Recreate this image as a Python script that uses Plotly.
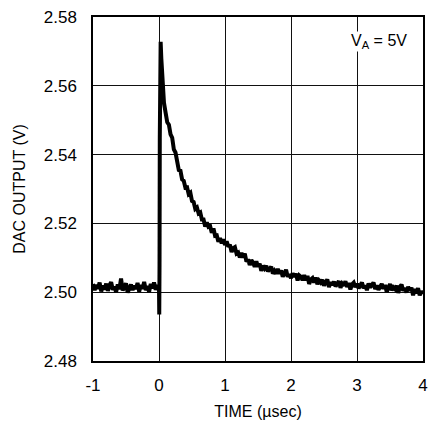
import numpy as np
import plotly.graph_objects as go

# Time samples (µs)
pre_time = np.round(np.arange(-1.0, 0.0, 0.025), 3).tolist()
glitch_time = [0.0, 0.004, 0.008, 0.012, 0.018, 0.025, 0.035]
post_time = np.round(np.arange(0.05, 4.0001, 0.025), 3).tolist()

# DAC output (V)
pre_v = [2.5024, 2.5006, 2.5021, 2.5010, 2.5028, 2.5002, 2.5019, 2.5008, 2.5025, 2.5004,
         2.5020, 2.5029, 2.5007, 2.5016, 2.5000, 2.5023, 2.5009, 2.5040, 2.5005, 2.5018,
         2.5026, 2.4999, 2.5015, 2.5022, 2.5006, 2.5019, 2.5009, 2.5027, 2.5002, 2.5021,
         2.5010, 2.5030, 2.5006, 2.5018, 2.5001, 2.5024, 2.5011, 2.5028, 2.5007, 2.5020]
glitch_v = [2.5012, 2.4935, 2.5080, 2.5450, 2.5650, 2.5728, 2.5680]
post_v = [2.5605, 2.5551, 2.5522, 2.5494, 2.5487, 2.5459, 2.5449, 2.5415, 2.5406, 2.5381,
          2.5355, 2.5353, 2.5328, 2.5324, 2.5304, 2.5305, 2.5285, 2.5289, 2.5265, 2.5262,
          2.5242, 2.5246, 2.5229, 2.5232, 2.5211, 2.5211, 2.5191, 2.5203, 2.5190, 2.5192,
          2.5173, 2.5185, 2.5164, 2.5165, 2.5147, 2.5157, 2.5142, 2.5154,
          2.5137, 2.5148, 2.5132, 2.5138, 2.5117, 2.5128, 2.5131, 2.5112, 2.5115, 2.5101,
          2.5114, 2.5101, 2.5112, 2.5089, 2.5096, 2.5079, 2.5093, 2.5086, 2.5074, 2.5090,
          2.5074, 2.5083, 2.5062, 2.5077, 2.5069, 2.5077, 2.5060, 2.5068, 2.5074, 2.5054,
          2.5062, 2.5054, 2.5068, 2.5054, 2.5063, 2.5045, 2.5058, 2.5065, 2.5045, 2.5052,
          2.5041, 2.5055, 2.5045, 2.5054, 2.5034, 2.5049, 2.5045, 2.5035, 2.5050, 2.5035,
          2.5047, 2.5024, 2.5037, 2.5041, 2.5028, 2.5043, 2.5023, 2.5034, 2.5028, 2.5036,
          2.5019, 2.5029, 2.5037, 2.5015, 2.5029, 2.5021, 2.5031, 2.5017, 2.5023, 2.5032,
          2.5013, 2.5025, 2.5019, 2.5032, 2.5015, 2.5027, 2.5008, 2.5023, 2.5028, 2.5015,
          2.5025, 2.5011, 2.5020, 2.5028, 2.5012, 2.5019, 2.5006, 2.5025, 2.5014, 2.5022,
          2.5028, 2.5009, 2.5020, 2.5007, 2.5017, 2.5024, 2.5010, 2.5021, 2.5001, 2.5017,
          2.5024, 2.5006, 2.5014, 2.5009, 2.5019, 2.4998, 2.5016, 2.5022, 2.5004, 2.5012,
          2.4999, 2.5016, 2.5005, 2.5013, 2.4991, 2.5009, 2.4997, 2.5012, 2.4991, 2.5003,
          2.4995]

x_ticks = [-1, 0, 1, 2, 3, 4]
y_ticks = [2.48, 2.50, 2.52, 2.54, 2.56, 2.58]
y_labels = ["2.48", "2.50", "2.52", "2.54", "2.56", "2.58"]

time = pre_time + glitch_time + post_time
volts = pre_v + glitch_v + post_v

FONT = "Liberation Sans, Arial, sans-serif"

fig = go.Figure()
fig.add_trace(go.Scatter(x=time, y=volts, mode="lines",
                         line=dict(color="black", width=4), showlegend=False))

fig.add_annotation(x=3.77, y=2.5729, xref="x", yref="y",
                   text="V<sub>A</sub> = 5V", showarrow=False,
                   xanchor="right", yanchor="middle",
                   bgcolor="white", borderpad=0,
                   font=dict(family=FONT, size=16, color="black"))

fig.update_layout(
    width=436, height=429,
    margin=dict(l=93, r=8, t=10, b=68),
    paper_bgcolor="white", plot_bgcolor="white",
    font=dict(family=FONT, size=16, color="black"),
)
fig.update_xaxes(range=[-1, 4], tickvals=x_ticks, ticktext=[str(v) for v in x_ticks],
                 showgrid=True, gridcolor="#111", gridwidth=1, zeroline=False,
                 showline=True, linecolor="black", linewidth=1.5, mirror=True,
                 ticks="outside", ticklen=8, tickcolor="rgba(0,0,0,0)",
                 tickfont=dict(size=17),
                 title=dict(text="TIME (µsec)", font=dict(size=16), standoff=12))
fig.update_yaxes(range=[2.48, 2.58], tickvals=y_ticks, ticktext=y_labels,
                 showgrid=True, gridcolor="#111", gridwidth=1, zeroline=False,
                 showline=True, linecolor="black", linewidth=1.5, mirror=True,
                 ticks="outside", ticklen=11, tickcolor="rgba(0,0,0,0)",
                 tickfont=dict(size=17),
                 title=dict(text="DAC OUTPUT (V)", font=dict(size=16), standoff=14))

fig.write_html("out.html")
